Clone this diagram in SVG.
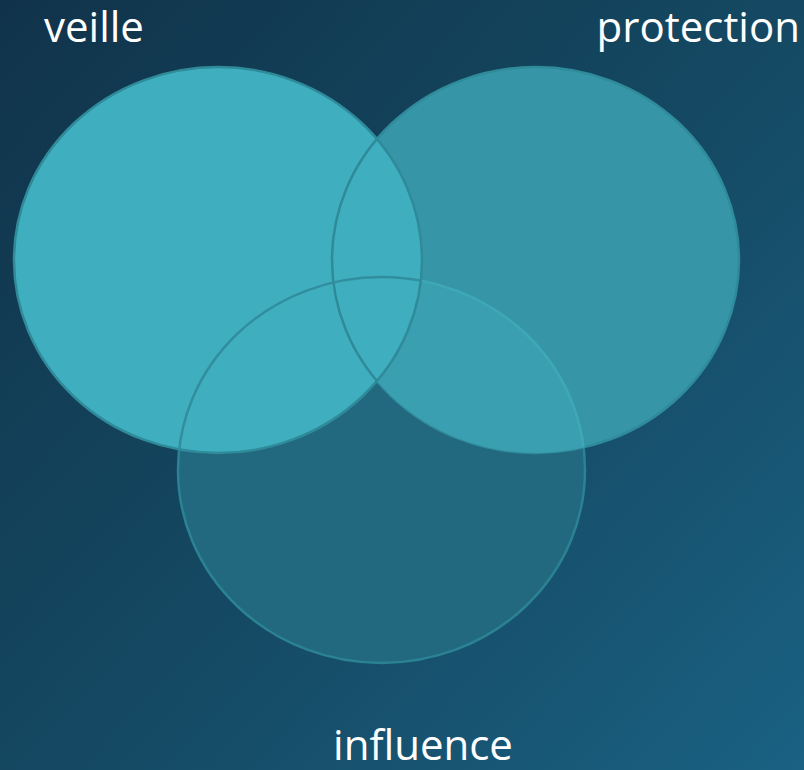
<svg xmlns="http://www.w3.org/2000/svg" width="804" height="770" viewBox="0 0 804 770">
  <defs>
    <linearGradient id="bg" x1="0" y1="0" x2="804" y2="770" gradientUnits="userSpaceOnUse">
      <stop offset="0" stop-color="#10334a"/>
      <stop offset="0.55" stop-color="#154a64"/>
      <stop offset="1" stop-color="#1a6183"/>
    </linearGradient>
    <clipPath id="clipProt"><ellipse cx="535.5" cy="260" rx="203.5" ry="193"/></clipPath>
    <clipPath id="clipVeille"><ellipse cx="218" cy="260" rx="204" ry="193"/></clipPath>
    <style>
      .lbl { font-family: "Open Sans", "Noto Sans", sans-serif; font-size: 42px; fill: #ffffff; }
      .edge { fill: none; stroke-width: 2.5; }
    </style>
  </defs>
  <rect width="804" height="770" fill="url(#bg)"/>

  <g id="influence">
    <ellipse cx="381.5" cy="470" rx="203.5" ry="193" fill="#22697f" stroke="#2b8292" stroke-width="2.5"/>
    <text class="lbl" x="423" y="760" text-anchor="middle">influence</text>
  </g>

  <g id="protection">
    <ellipse cx="535.5" cy="260" rx="203.5" ry="193" fill="#3696a8" stroke="#2f8a9a" stroke-width="2.5"/>
    <text class="lbl" x="800" y="42" text-anchor="end">protection</text>
  </g>

  <g id="overlap-protection-influence" clip-path="url(#clipProt)">
    <ellipse cx="381.5" cy="470" rx="203.5" ry="193" fill="#3a9fb0"/>
    <ellipse class="edge" cx="381.5" cy="470" rx="203.5" ry="193" stroke="#3fa8b8"/>
  </g>

  <g id="veille">
    <ellipse cx="218" cy="260" rx="204" ry="193" fill="#3fafbf" stroke="#2f8a9a" stroke-width="2.5"/>
    <text class="lbl" x="44" y="42">veille</text>
  </g>

  <g id="outlines-in-veille" clip-path="url(#clipVeille)">
    <ellipse class="edge" cx="535.5" cy="260" rx="203.5" ry="193" stroke="#2f8a9a"/>
    <ellipse class="edge" cx="381.5" cy="470" rx="203.5" ry="193" stroke="#328e9e"/>
  </g>
</svg>
